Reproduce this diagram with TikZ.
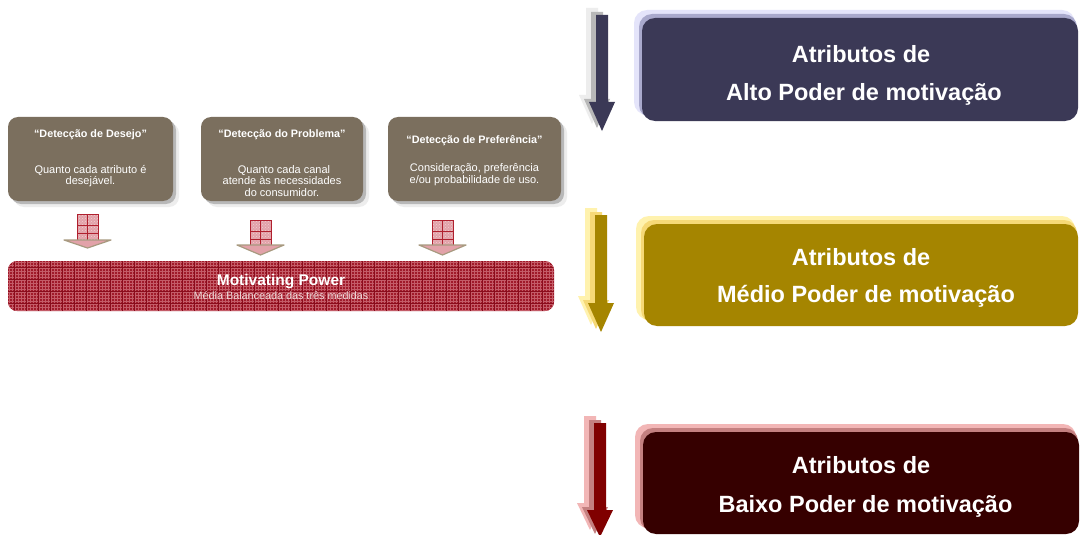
\documentclass[tikz,border=0pt]{standalone}
\usepackage{fontspec}
\setmainfont{Liberation Sans}
\usetikzlibrary{patterns}
\definecolor{boxbrown}{HTML}{7B6F5E}
\definecolor{navy}{HTML}{3B3956}
\definecolor{navymid}{HTML}{A9A9CC}
\definecolor{navyout}{HTML}{E4E4FA}
\definecolor{gold}{HTML}{A58500}
\definecolor{goldmid}{HTML}{F6D977}
\definecolor{goldout}{HTML}{FFF2AE}
\definecolor{maroon}{HTML}{360000}
\definecolor{maroonmid}{HTML}{C48080}
\definecolor{maroonout}{HTML}{F2B6B6}
\definecolor{arrred}{HTML}{800000}
\definecolor{greymid}{HTML}{B8B8B8}
\definecolor{greyout}{HTML}{EDEDED}
\definecolor{barred}{HTML}{A01A2A}
\definecolor{barline}{HTML}{C45C68}
\definecolor{bardark}{HTML}{8A0C1C}
\definecolor{pinkfill}{HTML}{E2A2A9}
\definecolor{pinkpat}{HTML}{F2CDD0}
\definecolor{pinkline}{HTML}{B0202E}
\definecolor{tan}{HTML}{A89A80}
\definecolor{subtxt}{HTML}{EEDADA}
\newcommand\myarrow[7]{%
  \foreach \dx/\dy/\cc in {-10/-7/#7,-5/-3/#6,0/0/#5}{%
    \fill[fill=\cc] ({#1+\dx-6},{#2+\dy}) -- ({#1+\dx+6},{#2+\dy}) -- ({#1+\dx+6},{#3+\dy})
      -- ({#1+\dx+13},{#3+\dy}) -- ({#1+\dx},{#4+\dy}) -- ({#1+\dx-13},{#3+\dy})
      -- ({#1+\dx-6},{#3+\dy}) -- cycle;}}
\newcommand\pinkarrow[4]{% cx, top, shaft bottom, tip
  \fill[pinkfill] ({#1-10.5},#2) rectangle ({#1+10.5},#3);
  \fill[pattern=crosshatch dots, pattern color=pinkpat] ({#1-10.5},#2) rectangle ({#1+10.5},#3);
  \draw[pinkline, line width=0.8pt] ({#1-10.5},#2) rectangle ({#1+10.5},#3);
  \draw[pinkline, line width=0.8pt] (#1,#2) -- (#1,#3);
  \draw[pinkline, line width=0.8pt] ({#1-10.5},{#2+11}) -- ({#1+10.5},{#2+11});
  \draw[pinkline, line width=0.8pt] ({#1-10.5},{#2+19}) -- ({#1+10.5},{#2+19});
  \fill[pinkfill, draw=tan, line width=1.2pt, line join=round] ({#1-23.5},#3) -- ({#1+23.5},#3) -- (#1,#4) -- cycle;}
\newcommand\bshadow[5]{% x1,y1,x2,y2, radius
  \fill[greyout, rounded corners=#5] ({#1+6},{#2+6}) rectangle ({#3+6},{#4+6});
  \fill[greymid, rounded corners=#5] ({#1+3},{#2+3}) rectangle ({#3+3},{#4+3});}
\newcommand\rshadow[6]{% x1,y1,x2,y2, outer col, mid col
  \fill[#5, rounded corners=13pt] ({#1-8},{#2-8}) rectangle ({#3-3},{#4-6});
  \fill[#6, rounded corners=13pt] ({#1-3},{#2-4}) rectangle ({#3-1},{#4-3});}
\tikzset{
  lbox/.style={rectangle, rounded corners=10pt, fill=boxbrown, inner sep=0pt,
    minimum height=84pt},
  ltitle/.style={text=white, font=\fontsize{10.8}{12}\selectfont\bfseries, anchor=base, inner sep=0pt},
  lbody/.style={text=white, font=\fontsize{11}{12}\selectfont, anchor=base, inner sep=0pt},
  rbox/.style={rectangle, rounded corners=13pt, inner sep=0pt},
  rtext/.style={text=white, font=\fontsize{23.5}{28}\selectfont\bfseries, anchor=base, inner sep=0pt},
}
\begin{document}
\begin{tikzpicture}[x=1pt,y=-1pt]
\useasboundingbox (0,0) rectangle (1080,535);
\fill[white] (0,0) rectangle (1080,535);

% ---- left boxes ----
\bshadow{8}{117}{173}{201}{10pt}
\bshadow{201}{117}{363}{201}{10pt}
\bshadow{388}{117}{561}{201}{10pt}
\node[lbox, minimum width=165pt] (d1) at (90.5,159) {};
\node[lbox, minimum width=162pt] (d2) at (282,159) {};
\node[lbox, minimum width=173pt] (d3) at (474.5,159) {};

\node[ltitle] (d1t) at (90.5,137) {“Detecção de Desejo”};
\node[lbody] (d1a) at (90.5,173.5) {Quanto cada atributo é};
\node[lbody] (d1b) at (90.5,184.5) {desejável.};

\node[ltitle] (d2t) at (282,137) {“Detecção do Problema”};
\node[lbody] (d2a) at (284,173) {Quanto cada canal};
\node[lbody] (d2b) at (282,184.5) {atende às necessidades};
\node[lbody] (d2c) at (282,196) {do consumidor.};

\node[ltitle] (d3t) at (474.5,143) {“Detecção de Preferência”};
\node[lbody] (d3a) at (474.5,171.5) {Consideração, preferência};
\node[lbody] (d3b) at (474.5,183) {e/ou probabilidade de uso.};

% ---- pink arrows ----
\pinkarrow{87.5}{214}{240}{248}
\pinkarrow{260.5}{220}{245}{255}
\pinkarrow{442.5}{220}{245}{255}

% ---- motivating power bar ----
\node[rectangle, rounded corners=9pt, fill=barred, minimum width=546pt, minimum height=50pt, inner sep=0pt] (mp) at (281,286) {};
\begin{scope}
\clip[rounded corners=9pt] (8,261) rectangle (554,311);
\foreach \x in {9,12,...,554} \draw[barline, line width=0.45pt] (\x,261) -- (\x,311);
\foreach \y in {262,265,...,311} \draw[barline, line width=0.45pt] (8,\y) -- (554,\y);
\foreach \x in {14,26,...,554} \draw[bardark, line width=0.8pt] (\x,261) -- (\x,311);
\foreach \y in {267,279,...,311} \draw[bardark, line width=0.8pt] (8,\y) -- (554,\y);
\end{scope}
\node[text=white, font=\fontsize{15.5}{17}\selectfont\bfseries, anchor=base, inner sep=0pt] (mpt) at (281,285) {Motivating Power};
\node[text=subtxt, font=\fontsize{10.8}{12}\selectfont, anchor=base, inner sep=0pt] (mps) at (281,299.5) {Média Balanceada das três medidas};

% ---- right arrows ----
\myarrow{602}{15}{102}{131}{navy}{greymid}{greyout}
\myarrow{601}{215}{303}{332}{gold}{goldmid}{goldout}
\myarrow{600}{423}{510}{537}{arrred}{maroonmid}{maroonout}

% ---- right boxes ----
\rshadow{642}{18}{1078}{121}{navyout}{navymid}
\node[rbox, fill=navy, minimum width=436pt, minimum height=103pt] (b1) at (860,69.5) {};
\node[rtext] (b1a) at (861,63) {Atributos de};
\node[rtext] (b1b) at (864,100) {Alto Poder de motivação};

\rshadow{644}{224}{1078}{326}{goldout}{goldmid}
\node[rbox, fill=gold, minimum width=434pt, minimum height=102pt] (b2) at (861,275) {};
\node[rtext] (b2a) at (861,265) {Atributos de};
\node[rtext] (b2b) at (866,302) {Médio Poder de motivação};

\rshadow{643}{432}{1079}{534}{maroonout}{maroonmid}
\node[rbox, fill=maroon, minimum width=436pt, minimum height=102pt] (b3) at (861,483) {};
\node[rtext] (b3a) at (861,473) {Atributos de};
\node[rtext] (b3b) at (865.5,512) {Baixo Poder de motivação};
\end{tikzpicture}
\end{document}
